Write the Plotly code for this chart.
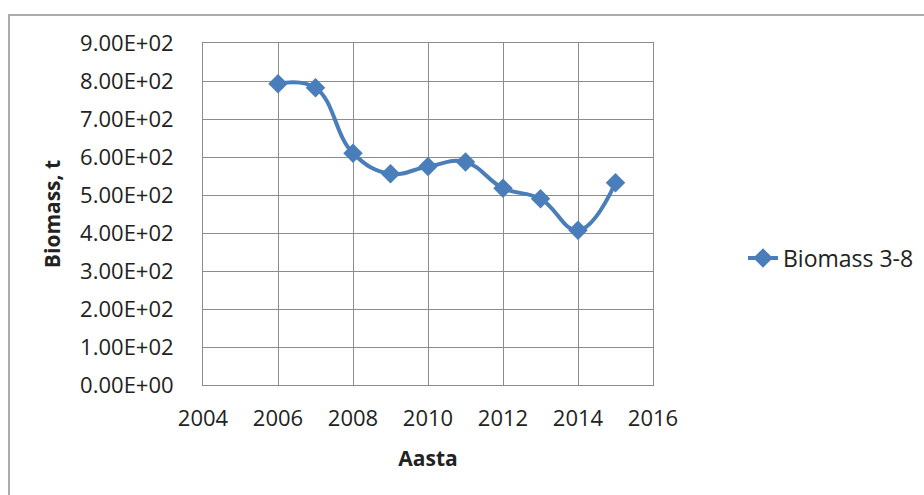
import plotly.graph_objects as go

# Biomass series (t) by year
years = [2006, 2007, 2008, 2009, 2010, 2011, 2012, 2013, 2014, 2015]
biomass = [793, 782, 610, 556, 575, 587, 518, 490, 407, 532]
series_name = "Biomass 3-8"

y_ticks = [0, 100, 200, 300, 400, 500, 600, 700, 800, 900]
y_tick_labels = [f"{v:.2E}" for v in y_ticks]
x_ticks = [2004, 2006, 2008, 2010, 2012, 2014, 2016]

W, H = 924, 495
L, R, T, B = 203, 271, 43, 110
pw, ph = W - L - R, H - T - B

blue = "#4A7EBB"
grid = "#8C8C8C"
font_family = "Open Sans, sans-serif"

fig = go.Figure()
fig.add_trace(go.Scatter(
    x=years, y=biomass, name=series_name,
    mode="lines+markers",
    line=dict(color=blue, width=4, shape="spline", smoothing=1.2),
    marker=dict(symbol="diamond", size=15, color=blue),
))

fig.update_layout(
    width=W, height=H,
    margin=dict(l=L, r=R, t=T, b=B),
    paper_bgcolor="white", plot_bgcolor="white",
    font=dict(family=font_family, size=22, color="#222222"),
    showlegend=True,
    legend=dict(
        xref="container", yref="container",
        x=743 / W, y=1 - 258 / H, xanchor="left", yanchor="middle",
        font=dict(size=23, color="#222222"),
        bgcolor="rgba(0,0,0,0)",
    ),
    xaxis=dict(
        range=[2004, 2016], tickvals=x_ticks,
        showgrid=True, gridcolor=grid, gridwidth=1,
        showline=True, linecolor=grid, linewidth=1, mirror=True,
        zeroline=False, ticks="", ticklabelstandoff=14,
        title=dict(text="<b>Aasta</b>", font=dict(size=21), standoff=19),
    ),
    yaxis=dict(
        range=[0, 900], tickvals=y_ticks, ticktext=y_tick_labels,
        showgrid=True, gridcolor=grid, gridwidth=1,
        showline=True, linecolor=grid, linewidth=1, mirror=True,
        zeroline=False, ticks="", ticklabelstandoff=24,
        title=dict(text="<b>Biomass, t</b>", font=dict(size=21), standoff=13),
    ),
    shapes=[dict(
        type="rect", xref="paper", yref="paper",
        x0=(9 - L) / pw, x1=(W + 20 - L) / pw,
        y0=-(H + 20 - T - ph) / ph, y1=(H - B - 15) / ph,
        line=dict(color="#ABABAB", width=2), fillcolor="rgba(0,0,0,0)",
        layer="below",
    )],
)

fig.write_html("out.html")
